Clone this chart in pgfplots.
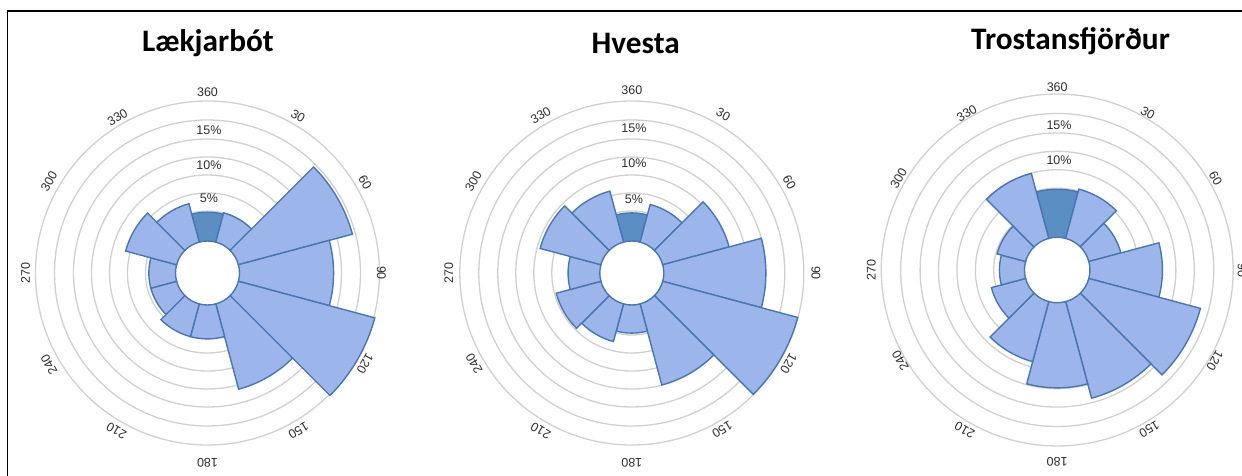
\documentclass[border=0pt]{standalone}
\usepackage{pgfplots}
\pgfplotsset{compat=1.18}
\usepackage{pgfplotstable}
\usepackage{fontspec}
\setmainfont{Liberation Sans}
\newfontfamily\titlefont{Carlito}

\definecolor{barfill}{HTML}{9CB6EC}
\definecolor{barnorth}{HTML}{5B8FC4}
\definecolor{baredge}{HTML}{4A76B0}
\definecolor{ringcol}{HTML}{D0D0D0}
\definecolor{labcol}{HTML}{2E2E2E}

% wind direction (sector centre, degrees) and frequency (%)
\pgfplotstableread{
dir val
0   3.7
30  3.9
60  16.0
90  12.7
120 19.2
150 11.9
180 4.4
210 4.4
240 3.4
270 3.4
300 7.0
330 5.2
}\lakjarbot

\pgfplotstableread{
dir val
0   3.6
30  5.1
60  9.2
90  13.8
120 19.0
150 11.3
180 3.6
210 5.1
240 6.1
270 4.1
300 8.4
330 7.0
}\hvesta

\pgfplotstableread{
dir val
0   6.2
30  6.6
60  4.2
90  9.5
120 15.3
150 13.2
180 11.2
210 8.1
240 4.5
270 3.1
300 3.7
330 8.8
}\trostans

\def\rscale{1}
\pgfdeclareplotmark{wedge}{%
  \pgfmathsetmacro\wro{(34+7.25*\wval)*\rscale}%
  \pgfmathsetmacro\wri{32*\rscale}%
  \pgfmathsetmacro\waa{75-\wdir}%
  \pgfmathsetmacro\wab{105-\wdir}%
  \ifdim\wdir pt<1pt \def\wfill{barnorth}\else\def\wfill{barfill}\fi
  \path[fill=\wfill, draw=baredge, line width=1.4pt, line join=miter]
    (\waa:\wri pt) -- (\waa:\wro pt) arc[start angle=\waa, end angle=\wab, radius=\wro pt]
    -- (\wab:\wri pt) arc[start angle=\wab, end angle=\waa, radius=\wri pt] -- cycle;
}

\pgfplotsset{rose/.style={anchor=center, x=1pt, y=1pt,
  xmin=-200, xmax=200, ymin=-200, ymax=200, hide axis, clip=false}}
\newcommand\roseplot[1]{\addplot[only marks, mark=wedge,
  visualization depends on={\thisrow{dir} \as \wdir},
  visualization depends on={\thisrow{val} \as \wval}]
  table[x expr=0, y expr=0] {#1};}

\begin{document}
\begin{tikzpicture}[x=1pt,y=1pt]
\useasboundingbox (0,0) rectangle (1242,475);
\clip (0,0) rectangle (1242,475);
\fill[white] (0,0) rectangle (1242,475);
\draw[black, line width=1.6] (7.5,-5) -- (7.5,464) -- (1250,464);

% rings
\foreach \r in {62,80,98,116,134,153,172}{
  \draw[ringcol, line width=1.3] (207.5,202) circle[radius=\r];
  \draw[ringcol, line width=1.3] (631.8,202) circle[radius=\r];
  \draw[ringcol, line width=1.3] (1057.2,205) circle[radius=1.023*\r];
}
% ring labels
\begin{scope}[every node/.style={text=labcol, font=\fontsize{12.5}{14}\selectfont, inner sep=0pt}]
\node at (209,202+75) {5\%};
\node at (209,202+108) {10\%};
\node at (209,202+143) {15\%};
\node at (634,202+74) {5\%};
\node at (634,202+110) {10\%};
\node at (634,202+145) {15\%};
\node at (1059,205+76) {5\%};
\node at (1059,205+110) {10\%};
\node at (1059,205+145) {15\%};
\end{scope}

\begin{axis}[rose, at={(207.5,202)}]
\roseplot{\lakjarbot}
\end{axis}
\begin{axis}[rose, at={(631.8,202)}]
\roseplot{\hvesta}
\end{axis}
\def\rscale{1.023}
\begin{axis}[rose, at={(1057.2,205)}]
\roseplot{\trostans}
\end{axis}

% direction labels
\begin{scope}[every node/.style={text=labcol, font=\fontsize{12.5}{14}\selectfont, inner sep=0pt}]
\foreach \t/\r/\l in {0/181/360,30/181/30,60/182/60,90/174/90,120/182/120,150/182/150,180/190/180,210/182/210,240/183/240,270/182/270,300/183/300,330/180/330}{
  \pgfmathsetmacro\a{90-\t}
  \node[rotate=-\t] at ([shift={(\a:\r)}]207.5,202) {\l};
}
\foreach \t/\r/\l in {0/183/360,30/183/30,60/182/60,90/184/90,120/181/120,150/181/150,180/190/180,210/182/210,240/182/240,270/183/270,300/183/300,330/182/330}{
  \pgfmathsetmacro\a{90-\t}
  \node[rotate=-\t] at ([shift={(\a:\r)}]631.8,202) {\l};
}
\foreach \t/\r/\l in {0/183/360,30/181/30,60/183/60,90/185/90,120/182/120,150/184/150,180/192/180,210/185/210,240/181/240,270/186/270,300/183/300,330/181/330}{
  \pgfmathsetmacro\a{90-\t}
  \node[rotate=-\t] at ([shift={(\a:\r)}]1057.2,205) {\l};
}
\end{scope}

% titles
\begin{scope}[every node/.style={font=\titlefont\bfseries\fontsize{31.3}{35}\selectfont, inner sep=0pt}]
\node at (208,432) {Lækjarbót};
\node at (635.7,432) {Hvesta};
\node at (1070.5,434) {Trostansfjörður};
\end{scope}
\end{tikzpicture}
\end{document}
